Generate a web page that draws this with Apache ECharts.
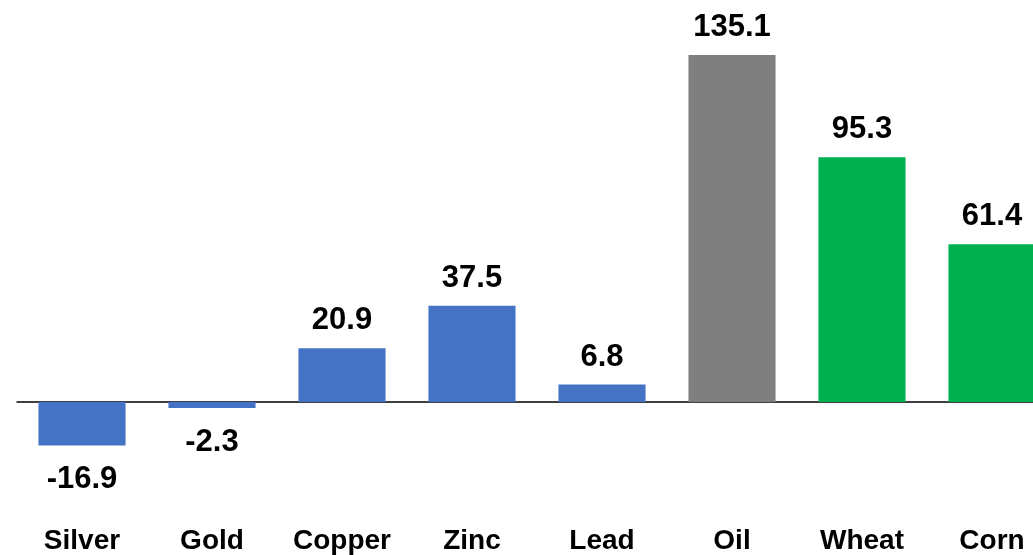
<!DOCTYPE html>
<html>
<head>
<meta charset="utf-8">
<script src="https://cdn.jsdelivr.net/npm/echarts@6/dist/echarts.min.js"></script>
<style>
  html, body { margin: 0; padding: 0; background: #fff; }
  #chart { width: 1033px; height: 555px; }
</style>
</head>
<body>
<div id="chart"></div>
<script>
// Commodity price change (%)
const categories = ['Silver', 'Gold', 'Copper', 'Zinc', 'Lead', 'Oil', 'Wheat', 'Corn'];
const values = [-16.9, -2.3, 20.9, 37.5, 6.8, 135.1, 95.3, 61.4];
const barColors = ['#4472C4', '#4472C4', '#4472C4', '#4472C4', '#4472C4', '#7F7F7F', '#00B050', '#00B050'];

const FONT = '"Liberation Sans", Arial, sans-serif';

const chart = echarts.init(document.getElementById('chart'), null, { renderer: 'canvas' });

chart.setOption({
  animation: false,
  backgroundColor: '#ffffff',
  grid: {
    left: 17, top: 42.4, width: 1040, height: 411,
    containLabel: false,
    outerBoundsMode: 'none'
  },
  xAxis: [
    {
      type: 'category',
      data: categories,
      axisLine: { onZero: true, lineStyle: { color: '#000000', width: 1.5 } },
      axisTick: { show: false },
      axisLabel: { show: false }
    },
    {
      type: 'category',
      data: categories,
      position: 'bottom',
      axisLine: { show: false, onZero: false },
      axisTick: { show: false },
      axisLabel: {
        interval: 0,
        margin: 74,
        fontFamily: FONT,
        fontWeight: 'bold',
        fontSize: 28,
        color: '#000000'
      }
    }
  ],
  yAxis: {
    type: 'value',
    min: -20,
    max: 140,
    show: false,
    splitLine: { show: false }
  },
  series: [{
    type: 'bar',
    xAxisIndex: 0,
    barWidth: '67%',
    data: values.map((v, i) => ({
      value: v,
      itemStyle: { color: barColors[i] },
      label: { position: v < 0 ? 'bottom' : 'top', distance: v < 0 ? 19 : 12 }
    })),
    label: {
      show: true,
      fontFamily: FONT,
      fontWeight: 'bold',
      fontSize: 31,
      color: '#000000',
      formatter: p => p.value.toFixed(1)
    }
  }]
});
</script>
</body>
</html>
